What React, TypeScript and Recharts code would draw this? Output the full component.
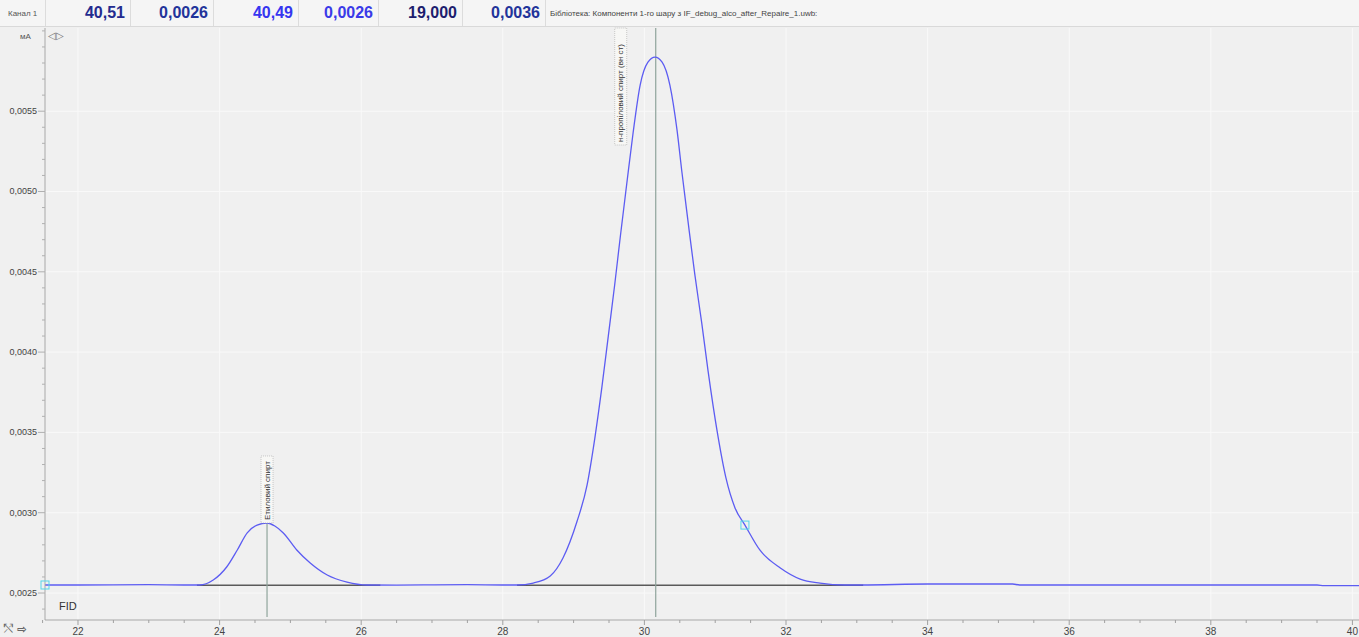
import React from "react";
import {
  ComposedChart,
  Line,
  XAxis,
  YAxis,
  CartesianGrid,
  ReferenceLine,
  ReferenceDot,
} from "recharts";

// retention time (min)
const times = [
  21.53, 22.0, 22.5, 23.0, 23.5, 23.72, 23.91, 24.1, 24.25, 24.39, 24.53, 24.67,
  24.78, 24.9, 25.09, 25.28, 25.52, 25.8, 26.08, 26.5, 27.0, 27.5, 28.0, 28.2,
  28.43, 28.67, 28.85, 29.05, 29.19, 29.3, 29.4, 29.49, 29.58, 29.66, 29.75,
  29.84, 29.94, 30.05, 30.15, 30.25, 30.36, 30.46, 30.53, 30.62, 30.71, 30.81,
  30.9, 31.03, 31.15, 31.28, 31.42, 31.63, 31.92, 32.2, 32.48, 32.83, 33.07,
  34.0, 35.2, 35.3, 37.0, 39.5, 39.6, 40.1,
];

// FID signal (mA)
const signal = [
  0.00255, 0.00255, 0.002551, 0.002552, 0.00255, 0.00255, 0.002581, 0.002662,
  0.002768, 0.002874, 0.002923, 0.002936, 0.002917, 0.002874, 0.002768,
  0.002687, 0.002612, 0.002568, 0.00255, 0.002549, 0.002551, 0.002552,
  0.00255, 0.00255, 0.002562, 0.002606, 0.002718, 0.002948, 0.003172,
  0.003465, 0.003783, 0.0041, 0.004418, 0.00472, 0.005045, 0.005364,
  0.005663, 0.005806, 0.005837, 0.005806, 0.005663, 0.005385, 0.00512,
  0.0048, 0.00449, 0.00418, 0.00388, 0.0035, 0.00322, 0.00303, 0.002923,
  0.002768, 0.002656, 0.002587, 0.002562, 0.00255, 0.00255, 0.002556,
  0.002556, 0.00255, 0.00255, 0.00255, 0.002546, 0.002546,
];

const peakNames = ["Етиловий спирт", "н-пропіловий спирт (вн ст)"];
const peakTimes = [24.67, 30.16];
const peakHeights = [0.002936, 0.005837];

// integration baselines [start, end]
const baseStarts = [23.68, 28.2];
const baseEnds = [26.27, 33.09];
const baseLevel = 0.002548;

const xMajor = [22, 24, 26, 28, 30, 32, 34, 36, 38, 40];
const yMajor = [0.0025, 0.003, 0.0035, 0.004, 0.0045, 0.005, 0.0055];

const headerValues = ["40,51", "0,0026", "40,49", "0,0026", "19,000", "0,0036"];
const headerColors = ["#232b8f", "#22339a", "#3636f0", "#3a3ae8", "#1d1d6e", "#22339a"];

const data = times.map((t, i) => ({ t, v: signal[i] }));

const xTicks: number[] = [];
for (let i = 0; i <= 37; i++) xTicks.push(21.5 + i * 0.5);
const yTicks: number[] = [];
for (let i = 0; i <= 36; i++) yTicks.push(Math.round((0.0024 + i * 0.0001) * 1e5) / 1e5);

const FONT = "'Liberation Sans', Arial, sans-serif";

const XTick = (props: any) => {
  const { x, y, payload } = props;
  const v = payload.value;
  const major = xMajor.some((m) => Math.abs(m - v) < 1e-6);
  return (
    <g>
      <line x1={x} x2={x} y1={y} y2={y + (major ? 5 : 3)} stroke="#a0a0a0" />
      {major && (
        <text x={x} y={y + 15} textAnchor="middle" fontSize={10} fill="#444" fontFamily={FONT}>
          {v}
        </text>
      )}
    </g>
  );
};

const YTick = (props: any) => {
  const { x, y, payload } = props;
  const v = payload.value;
  const major = yMajor.some((m) => Math.abs(m - v) < 1e-8);
  return (
    <g>
      <line x1={x - (major ? 7 : 3)} x2={x} y1={y} y2={y} stroke="#b0b0b0" />
      {major && (
        <text x={x - 8} y={y + 3} textAnchor="end" fontSize={9} fill="#444" fontFamily={FONT}>
          {v.toFixed(4).replace(".", ",")}
        </text>
      )}
    </g>
  );
};

const PeakLabel = ({ cx, cy, name, idx }: any) => {
  const len = idx === 0 ? 67 : 117;
  const bx = idx === 0 ? cx - 6 : cx - 41;
  const bottom = idx === 0 ? cy : 145;
  return (
    <g>
      <rect x={bx} y={bottom - len} width={12} height={len} fill="#f7f7f5" stroke="#a8a8a8" strokeWidth={0.6} strokeDasharray="1 1" />
      <text
        x={bx + 6}
        y={bottom - 3}
        transform={`rotate(-90, ${bx + 6}, ${bottom - 3})`}
        fontSize={8}
        fill="#333"
        dominantBaseline="central"
        fontFamily={FONT}
      >
        {name}
      </text>
    </g>
  );
};

const Square = ({ cx, cy }: any) => (
  <rect x={cx - 4} y={cy - 4} width={8} height={8} fill="none" stroke="#55d6ea" strokeWidth={1} />
);

export default function App() {
  const cellEdges = [45, 130, 213, 298, 378, 462, 545];
  return (
    <div style={{ position: "absolute", left: 0, top: 0, width: 1359, height: 637, background: "#f0f0f0", overflow: "hidden", fontFamily: FONT }}>
      <ComposedChart
        width={1359}
        height={637}
        data={data}
        margin={{ top: 28, right: 0, bottom: 0, left: 0 }}
      >
        <CartesianGrid stroke="#f9f9f9" horizontalValues={yMajor} verticalValues={xMajor} />
        <XAxis
          type="number"
          dataKey="t"
          domain={[21.534, 40.093]}
          allowDataOverflow
          ticks={xTicks}
          interval={0}
          tickSize={0}
          tickMargin={0}
          tickLine={false}
          height={17}
          stroke="#a8a8a8"
          tick={<XTick />}
        />
        <YAxis
          type="number"
          domain={[0.002332, 0.006018]}
          allowDataOverflow
          ticks={yTicks}
          interval={0}
          tickSize={0}
          tickMargin={0}
          tickLine={false}
          width={45}
          stroke="#a8a8a8"
          tick={<YTick />}
        />
        {baseStarts.map((s, i) => (
          <ReferenceLine
            key={`b${i}`}
            segment={[{ x: s, y: baseLevel }, { x: baseEnds[i], y: baseLevel }]}
            stroke="#5a5a5a"
            strokeWidth={1.5}
          />
        ))}
        {peakTimes.map((t, i) => (
          <ReferenceLine
            key={`p${i}`}
            segment={[{ x: t, y: i === 0 ? peakHeights[i] : 0.006018 }, { x: t, y: 0.00235 }]}
            stroke="#8fa49b"
            strokeWidth={1.2}
          />
        ))}
        <Line
          type="monotone"
          dataKey="v"
          stroke="#5c5cf2"
          strokeWidth={1.3}
          dot={false}
          isAnimationActive={false}
        />
        {peakTimes.map((t, i) => (
          <ReferenceDot
            key={`l${i}`}
            x={t}
            y={peakHeights[i]}
            r={0}
            shape={(p: any) => <PeakLabel {...p} name={peakNames[i]} idx={i} />}
          />
        ))}
        <ReferenceDot x={31.42} y={0.002923} r={0} shape={(p: any) => <Square {...p} />} />
        <ReferenceDot x={21.534} y={0.00255} r={0} shape={(p: any) => <Square {...p} />} />
      </ComposedChart>

      {/* header strip */}
      <div style={{ position: "absolute", left: 0, top: 0, width: 1359, height: 26, background: "#f5f5f5", borderBottom: "1px solid #d9d9d9" }}>
        <div style={{ position: "absolute", left: 8, top: 9, fontSize: 8, color: "#555" }}>Канал 1</div>
        {headerValues.map((h, i) => (
          <div
            key={i}
            style={{
              position: "absolute",
              left: cellEdges[i],
              top: 0,
              width: cellEdges[i + 1] - cellEdges[i] - 6,
              height: 26,
              textAlign: "right",
              fontSize: 16,
              fontWeight: "bold",
              lineHeight: "26px",
              color: headerColors[i],
              borderLeft: "1px solid #dcdcdc",
              paddingRight: 6,
            }}
          >
            {h}
          </div>
        ))}
        <div style={{ position: "absolute", left: cellEdges[6], top: 0, height: 26, borderLeft: "1px solid #dcdcdc" }} />
        <div style={{ position: "absolute", left: 550, top: 9, fontSize: 8, color: "#444" }}>
          Бібліотека: Компоненти 1-го шару з IF_debug_alco_after_Repaire_1.uwb:
        </div>
      </div>
      <div style={{ position: "absolute", left: 20, top: 32, fontSize: 8, color: "#555" }}>мА</div>
      <div style={{ position: "absolute", left: 48, top: 30, fontSize: 10, color: "#777" }}>◁▷</div>
      <div style={{ position: "absolute", left: 59, top: 600, fontSize: 11, color: "#333" }}>FID</div>
      <div style={{ position: "absolute", left: 4, top: 621, fontSize: 12, color: "#666" }}>⤲ ⇨</div>
    </div>
  );
}
